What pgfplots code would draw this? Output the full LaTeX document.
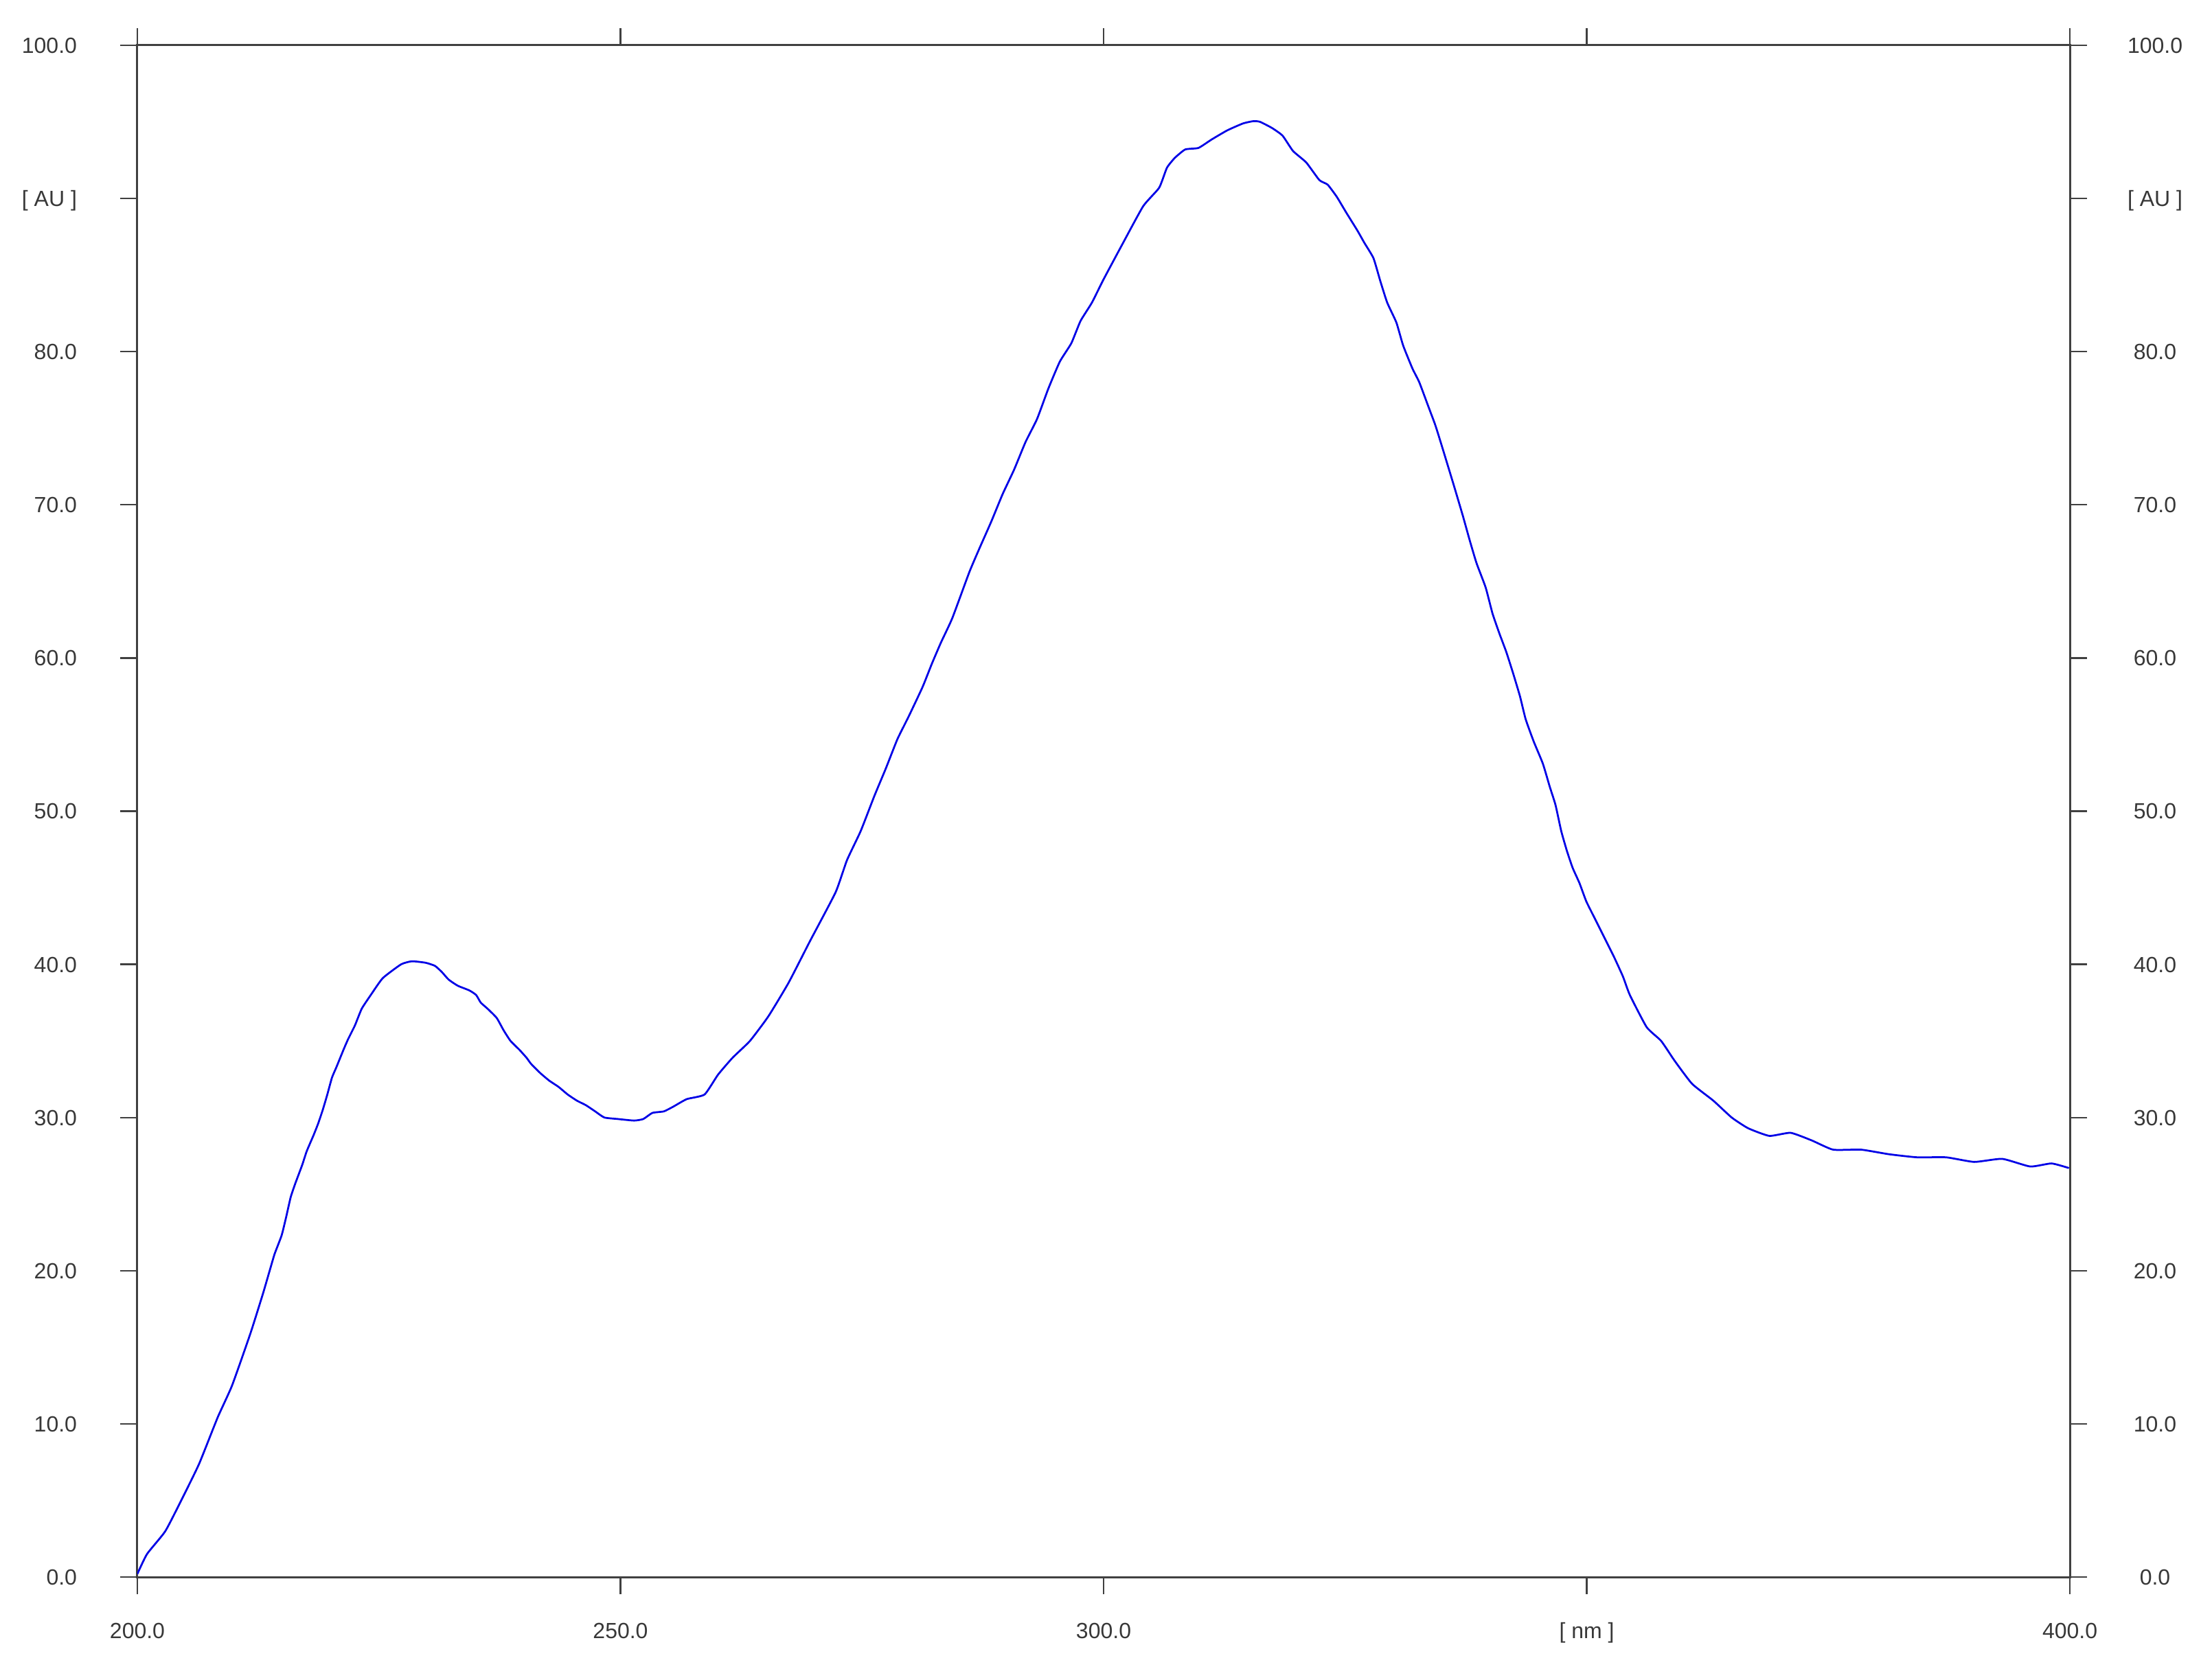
\documentclass[border=0pt]{standalone}
\usepackage{pgfplots}
\pgfplotsset{compat=1.18}
\usepackage{fontspec}
\setmainfont{Liberation Sans}
\definecolor{axgray}{HTML}{404040}
\definecolor{txtgray}{HTML}{383838}
\definecolor{curveblue}{HTML}{0000E6}
\begin{document}
\begin{tikzpicture}
\pgfplotsset{
  myaxis/.style={
    scale only axis,
    width=562.8pt, height=446.2pt,
    xmin=200, xmax=400, ymin=0, ymax=100,
    axis line style={axgray, line width=0.6pt},
    tick style={axgray, line width=0.45pt},
    tick align=outside,
    major tick length=5pt,
    xtick={200,250,300,350,400},
    ytick={0,10,...,100},
    minor tick num=0,
    ticklabel style={font=\fontsize{6.4}{7.5}\selectfont, text=txtgray, inner sep=0pt},
  }
}
\begin{axis}[myaxis,
  xticklabels={200.0,250.0,300.0,{[ nm ]},400.0},
  yticklabels={0.0,10.0,20.0,30.0,40.0,50.0,60.0,70.0,80.0,{[ AU ]},100.0},
  xtick pos=both, ytick pos=both,
  xticklabel pos=lower, yticklabel pos=left,
  yticklabel style={anchor=base east, xshift=-12.4pt, yshift=-2.3pt},
  xticklabel style={anchor=base, yshift=-12.9pt},
]
\addplot[curveblue, line width=0.55pt, smooth, tension=0.3] coordinates {
(200.0,0.2) (201.0,1.5) (202.9,3.0) (204.7,5.2) (206.4,7.4) (208.3,10.4)
(209.8,12.5) (211.7,15.9) (213.0,18.5) (213.74,20.1) (214.21,21.1) (214.93,22.3)
(215.4,23.5) (215.87,24.8) (216.35,25.7) (217.06,26.9) (217.53,27.8) (218.24,28.85)
(218.71,29.6) (219.19,30.5) (219.66,31.5) (220.14,32.6) (220.61,33.3) (221.32,34.4)
(221.8,35.1) (222.51,36.0) (223.22,37.1) (224.16,38.0) (225.4,39.1) (227.3,40.0)
(228.43,40.2) (229.85,40.1) (230.8,39.9) (231.51,39.5) (232.22,39.0) (233.17,38.6)
(234.35,38.3) (235.06,38.0) (235.54,37.5) (236.25,37.1) (237.19,36.5) (237.9,35.7)
(238.62,35.0) (239.57,34.4) (240.28,33.9) (240.75,33.5) (241.7,32.9) (242.64,32.4)
(243.59,32.0) (244.54,31.5) (245.49,31.1) (246.43,30.8) (247.38,30.4) (248.33,30.0)
(249.75,29.9) (251.41,29.8) (252.36,29.9) (253.3,30.3) (254.49,30.4) (255.44,30.7)
(256.86,31.2) (258.7,31.5) (260.1,32.8) (261.6,33.9) (263.4,35.0) (265.3,36.6)
(267.4,38.8) (269.6,41.5) (272.26,44.7) (273.44,46.8) (274.86,48.7) (276.28,51.0)
(277.47,52.8) (278.66,54.7) (279.84,56.2) (281.26,58.1) (282.21,59.6) (283.16,61.0)
(284.34,62.6) (286.1,65.6) (287.18,67.2) (288.37,68.9) (289.55,70.7) (290.74,72.3)
(291.92,74.1) (293.11,75.6) (294.29,77.6) (295.47,79.35) (296.66,80.55) (297.61,82.0)
(298.79,83.2) (299.98,84.7) (301.93,87.0) (304.1,89.5) (305.75,90.7) (306.55,92.0)
(307.37,92.65) (308.45,93.2) (309.82,93.3) (311.18,93.85) (312.81,94.45) (314.44,94.9)
(315.53,95.05) (316.2,95.0) (317.43,94.6) (318.52,94.1) (319.6,93.1) (320.97,92.35)
(322.33,91.2) (323.19,90.9) (324.14,90.1) (325.09,89.1) (326.27,87.9) (326.99,87.1)
(327.93,86.1) (328.64,84.6) (329.35,83.2) (330.3,81.9) (331.0,80.4) (331.96,78.9)
(332.67,78.0) (333.62,76.4) (334.33,75.2) (335.0,73.85) (336.23,71.3) (337.17,69.3)
(337.88,67.7) (338.59,66.2) (339.54,64.6) (340.25,62.9) (340.96,61.6) (341.67,60.4)
(342.38,59.0) (343.09,57.5) (343.68,56.0) (344.51,54.55) (345.46,53.1) (346.17,51.6)
(346.77,50.4) (347.36,48.7) (347.95,47.4) (348.54,46.3) (349.25,45.3) (349.96,44.1)
(350.91,42.9) (351.86,41.7) (352.81,40.5) (353.75,39.2) (354.46,38.0) (356.2,35.9)
(357.7,35.0) (359.1,33.7) (360.9,32.2) (363.1,31.1) (365.0,30.0) (366.7,29.3)
(368.9,28.8) (371.1,29.0) (373.3,28.5) (375.5,27.9) (378.4,27.9) (381.3,27.6)
(384.2,27.4) (387.2,27.4) (390.1,27.1) (393.0,27.3) (395.9,26.8) (398.1,27.0)
(399.9,26.7)
};
\end{axis}
\begin{axis}[myaxis,
  axis x line=none,
  axis y line*=right,
  axis line style={draw=none},
  tick style={draw=none},
  xtick=\empty,
  yticklabels={0.0,10.0,20.0,30.0,40.0,50.0,60.0,70.0,80.0,{[ AU ]},100.0},
  yticklabel style={anchor=base, xshift=19.8pt, yshift=-2.3pt},
]
\addplot[draw=none] coordinates {(200,0) (400,100)};
\end{axis}
\path ([shift={(-40pt,-29.8pt)}]current axis.south west) rectangle ([shift={(41.4pt,13.2pt)}]current axis.north east);
\end{tikzpicture}
\end{document}
